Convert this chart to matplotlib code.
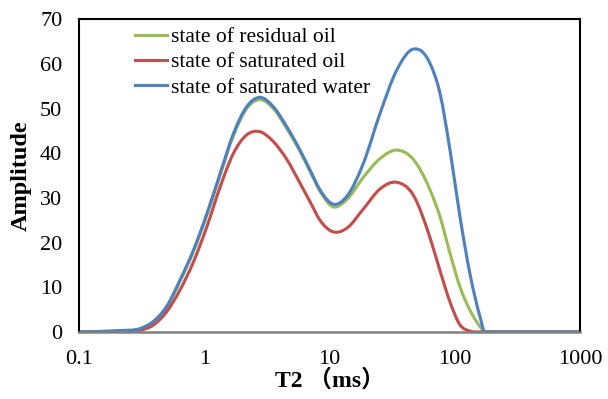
import numpy as np
import matplotlib.pyplot as plt
from matplotlib.path import Path
from matplotlib.patches import PathPatch
from matplotlib.lines import Line2D

# T2 relaxation times (ms) and amplitude
t2 = [0.1, 0.21, 0.31, 0.39, 0.5, 0.64, 0.82, 1.05, 1.34, 1.71, 2.18, 2.79, 3.56,
      4.54, 5.81, 7.0, 8.39, 10.7, 13.7, 18.6, 25.3, 34.4, 46.7, 63.4, 76.2,
      91.6, 110, 132, 159, 174, 200, 1000]

residual_oil = [0, 0.3, 0.7, 2.2, 5.5, 11.4, 18.1, 26.2, 35.2, 44.0, 50.0, 52.0, 50.0,
                45.6, 40.4, 35.9, 31.5, 28.0, 29.6, 34.6, 38.8, 40.7, 38.6, 31.8, 25.8,
                17.6, 10.1, 4.9, 1.2, 0, 0, 0]
saturated_oil = [0, 0.1, 0.4, 1.5, 4.5, 9.4, 15.7, 23.6, 32.5, 40.0, 44.1, 44.8, 42.6,
                 38.7, 33.3, 29.1, 25.0, 22.4, 23.2, 27.5, 32.0, 33.5, 30.6, 21.1, 13.7,
                 6.7, 1.6, 0.2, 0, 0, 0, 0]
saturated_water = [0, 0.3, 0.8, 2.3, 5.7, 11.6, 18.3, 26.5, 35.5, 44.4, 50.4, 52.5, 50.4,
                   46.0, 40.7, 36.2, 31.8, 28.6, 30.3, 37.7, 48.9, 58.6, 63.3, 60.1, 53.4,
                   40.7, 25.8, 13.1, 3.4, 0, 0, 0]

labels = ['state of residual oil', 'state of saturated oil', 'state of saturated water']
colors = ['#9BBB59', '#C0504D', '#4F81BD']


def smooth_path(x, y):
    # Excel-like smoothed line: cubic Bezier segments through the points (in log x)
    lx = np.log10(x)
    y = np.asarray(y, float)
    h = np.diff(lx)
    d = np.diff(y) / h
    m = np.zeros(len(y))
    m[0], m[-1] = d[0], d[-1]
    for k in range(1, len(y) - 1):
        m[k] = (h[k] * d[k - 1] + h[k - 1] * d[k]) / (h[k - 1] + h[k])
        if y[k] == 0:
            m[k] = 0
    verts = [(lx[0], y[0])]
    codes = [Path.MOVETO]
    for i in range(len(y) - 1):
        verts += [(lx[i] + h[i] / 3, y[i] + m[i] * h[i] / 3),
                  (lx[i + 1] - h[i] / 3, y[i + 1] - m[i + 1] * h[i] / 3),
                  (lx[i + 1], y[i + 1])]
        codes += [Path.CURVE4] * 3
    return Path([(10 ** vx, vy) for vx, vy in verts], codes)


plt.rcParams['font.family'] = ['Liberation Serif', 'Noto Sans CJK SC']

fig = plt.figure(figsize=(6.08, 3.99), dpi=100)
ax = fig.add_axes([0.130, 0.168, 0.824, 0.784])

ax.set_xscale('log')
ax.set_xlim(0.1, 1000)
ax.set_ylim(0, 70)

handles = []
for vals, lab, col in zip([residual_oil, saturated_oil, saturated_water], labels, colors):
    ax.add_patch(PathPatch(smooth_path(t2, vals), fill=False, edgecolor=col, lw=2.25,
                           capstyle='round', joinstyle='round'))
    handles.append(Line2D([], [], color=col, lw=2.25, label=lab))

ax.set_xticks([0.1, 1, 10, 100, 1000])
ax.set_xticklabels(['0.1', '1', '10', '100', '1000'])
ax.set_yticks(range(0, 71, 10))
ax.minorticks_off()
ax.tick_params(axis='both', length=0, labelsize=16)
ax.tick_params(axis='x', pad=13)
ax.tick_params(axis='y', pad=12)

for s in ['left', 'top', 'right']:
    ax.spines[s].set_color('black')
    ax.spines[s].set_linewidth(1.5)
ax.spines['bottom'].set_color('#808080')
ax.spines['bottom'].set_linewidth(1.8)

ax.set_xlabel('T2 （ms）', fontsize=17, fontweight='bold', labelpad=0)
ax.set_ylabel('Amplitude', fontsize=17.5, fontweight='bold', labelpad=6)

ax.legend(handles=handles, loc='upper left', bbox_to_anchor=(0.112, 0.975),
          frameon=False, fontsize=15.5, handlelength=1.5, handletextpad=0.15,
          labelspacing=0.25, borderpad=0, borderaxespad=0)

fig.savefig('out.png', dpi=100)
